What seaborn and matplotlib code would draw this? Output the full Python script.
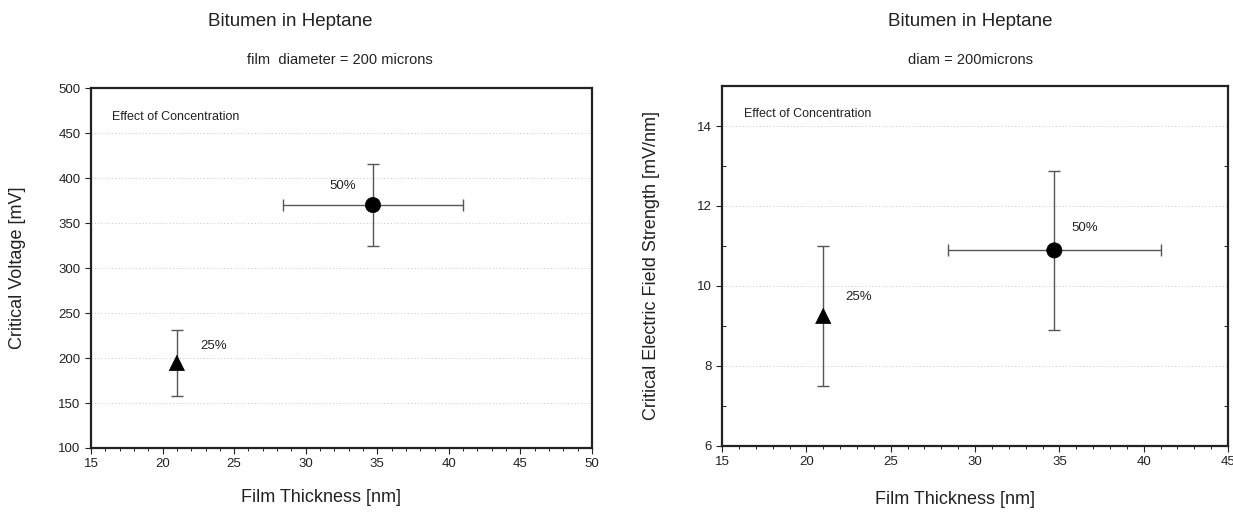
import numpy as np
import pandas as pd
import matplotlib
matplotlib.use("Agg")
import matplotlib.pyplot as plt
from matplotlib.ticker import MultipleLocator
import seaborn as sns

# ---- data ----
labels = ["25%", "50%"]
thickness = [21.0, 34.7]
thickness_err = [0.0, 6.3]
voltage = [194.5, 370.0]
voltage_err = [36.5, 46.0]
field = [9.25, 10.89]
field_err = [1.74, 1.99]
markers = ["^", "o"]

sns.set_theme(style="ticks")
plt.rcParams['font.family'] = ['Liberation Sans', 'DejaVu Sans']

df = pd.DataFrame({"conc": labels, "thickness": thickness, "voltage": voltage, "field": field})

fig = plt.figure(figsize=(12.33, 5.12), dpi=100)
ax1 = fig.add_axes([0.0738, 0.125, 0.4063, 0.703])
ax2 = fig.add_axes([0.5856, 0.129, 0.4104, 0.703])

spine_c = "#222222"
err_c = "#555555"

def style(ax):
    for s in ax.spines.values():
        s.set_color(spine_c)
        s.set_linewidth(1.6)
    ax.tick_params(axis="both", which="major", labelsize=9.5, length=4, width=0.8, color=spine_c, colors="#222222", direction="out")
    ax.tick_params(axis="both", which="minor", length=2.5, width=0.7, color=spine_c, direction="out")
    ax.grid(False)

for ax, ycol, yerr in [(ax1, "voltage", voltage_err), (ax2, "field", field_err)]:
    for i in range(len(labels)):
        ax.errorbar(thickness[i], df[ycol][i], xerr=thickness_err[i] if thickness_err[i] > 0 else None,
                    yerr=yerr[i], fmt="none", ecolor=err_c, elinewidth=1.0, capsize=4, capthick=1.0, zorder=2)
    sns.scatterplot(data=df, x="thickness", y=ycol, style="conc", markers=dict(zip(labels, markers)),
                    color="black", s=120, edgecolor="black", linewidth=0.5, ax=ax, legend=False, zorder=3)
    style(ax)

grid_kw = dict(color="#c4c4c4", lw=0.7, ls=(0, (1, 2.5)), zorder=0)

# left axes
ax1.set_xlim(15, 50)
ax1.set_ylim(100, 500)
ax1.xaxis.set_major_locator(MultipleLocator(5))
ax1.xaxis.set_minor_locator(MultipleLocator(1))
ax1.yaxis.set_major_locator(MultipleLocator(50))
for v in range(150, 500, 50):
    ax1.axhline(v, **grid_kw)
ax1.set_xlabel("")
ax1.set_ylabel("")
ax1.text(0.042, 0.92, "Effect of Concentration", transform=ax1.transAxes, fontsize=9, color="#222222", va="center")
ax1.text(23.6, 213, "25%", fontsize=9.5, ha="center", va="center", color="#222222")
ax1.text(32.6, 391, "50%", fontsize=9.5, ha="center", va="center", color="#222222")

# right axes
ax2.set_xlim(15, 45)
ax2.set_ylim(6, 15)
ax2.xaxis.set_major_locator(MultipleLocator(5))
ax2.xaxis.set_minor_locator(MultipleLocator(1))
ax2.set_yticks([6, 8, 10, 12, 14])
ax2.yaxis.set_minor_locator(MultipleLocator(1))
ax2.tick_params(axis="y", which="minor", right=True, direction="in", length=3)
for v in [8, 10, 12, 14]:
    ax2.axhline(v, **grid_kw)
ax2.set_xlabel("")
ax2.set_ylabel("")
ax2.text(0.043, 0.921, "Effect of Concentration", transform=ax2.transAxes, fontsize=9, color="#222222", va="center")
ax2.text(23.1, 9.72, "25%", fontsize=9.5, ha="center", va="center", color="#222222")
ax2.text(36.5, 11.45, "50%", fontsize=9.5, ha="center", va="center", color="#222222")

W, H = 1233, 512
def ft(x, y, s, **kw):
    fig.text(x / W, 1 - y / H, s, ha="center", va="center", color="#222222", **kw)

ft(290, 22, "Bitumen in Heptane", fontsize=13.5)
ft(340, 60, "film  diameter = 200 microns", fontsize=10.5)
ft(970, 22, "Bitumen in Heptane", fontsize=13.5)
ft(971, 60, "diam = 200microns", fontsize=10.5)
ft(321, 497, "Film Thickness [nm]", fontsize=13)
ft(955, 500, "Film Thickness [nm]", fontsize=13)
ft(18, 268, "Critical Voltage [mV]", fontsize=13, rotation=90)
ft(652, 266, "Critical Electric Field Strength [mV/nm]", fontsize=13, rotation=90)

fig.savefig("out.png", dpi=100)
